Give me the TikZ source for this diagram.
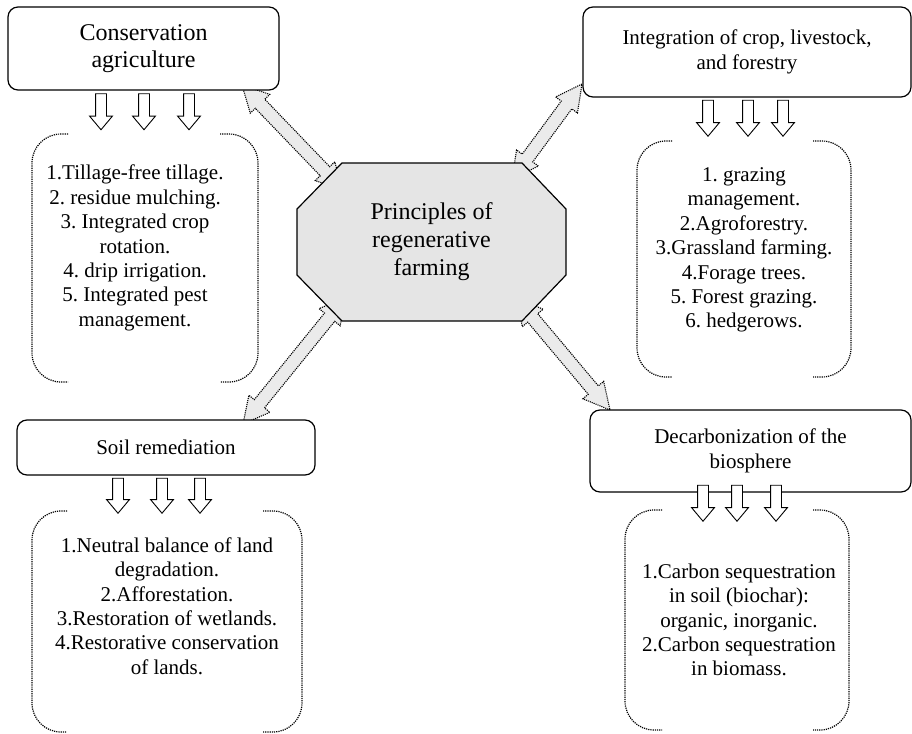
\documentclass[tikz,border=0pt]{standalone}
\usepackage{fontspec}
\setmainfont{Liberation Serif}
\usetikzlibrary{shapes.arrows,calc}
\frenchspacing
\newcommand{\twoway}[2]{%
  \path let \p1=(#1), \p2=(#2), \n1={atan2(\y2-\y1,\x2-\x1)},
    \n2={veclen(\x2-\x1,\y2-\y1)} in
    node[linkarrow,minimum height=\n2,rotate=\n1] (#1#2) at ($(#1)!0.5!(#2)$) {};}
\begin{document}
\begin{tikzpicture}[x=1pt,y=-1pt,
  topic/.style={draw,line width=1.2pt,rounded corners=10pt,fill=white,align=center,
    font=\fontsize{21}{25}\selectfont},
  list/.style={align=center,font=\fontsize{21}{24.4}\selectfont},
  bracket/.style={densely dotted,line width=1.2pt,rounded corners=29pt},
  downarrow/.style={single arrow,draw,line width=0.9pt,fill=white,rotate=-90,inner sep=5pt,
    single arrow head extend=6pt,single arrow tip angle=80,minimum height=36pt},
  linkarrow/.style={double arrow,draw,densely dotted,line width=1.1pt,fill=black!8,inner sep=6pt,
    double arrow head extend=7pt,double arrow tip angle=55}]
  \useasboundingbox (0,0) rectangle (912,733);
  % links from the four topics to the centre
  \coordinate (c1) at (242,85);  \coordinate (h1) at (343,190);
  \coordinate (c2) at (582,84);  \coordinate (h2) at (512,179);
  \coordinate (c3) at (243,424); \coordinate (h3) at (346,297);
  \coordinate (c4) at (610,410); \coordinate (h4) at (516,298);
  \twoway{c1}{h1}
  \twoway{c2}{h2}
  \twoway{c3}{h3}
  \twoway{c4}{h4}
  \draw[line width=1.2pt,fill=black!10] (342,163) -- (522,163) -- (566,209) -- (566,275) --
        (522,321) -- (342,321) -- (297,275) -- (297,209) -- cycle;
  \node[align=center,font=\fontsize{24}{28}\selectfont] (hub) at (431.5,242)
    {Principles of\\regenerative\\farming};
  % topics
  \node[topic,minimum width=271pt,minimum height=83pt,font=\fontsize{24}{27}\selectfont]
    (cons) at (143.5,48.5) {Conservation\\agriculture};
  \node[topic,minimum width=328pt,minimum height=90pt] (integ) at (747,52)
    {Integration of crop, livestock,\\and forestry};
  \node[topic,minimum width=298pt,minimum height=55pt] (soil) at (166,447.5) {Soil remediation};
  \node[topic,minimum width=321pt,minimum height=82pt] (decarb) at (750.5,451)
    {Decarbonization of the\\biosphere};
  \foreach \x in {101,144,189} \node[downarrow] (cons-\x) at (\x,108.5) {};
  \foreach \x in {708,748,783} \node[downarrow] (integ-\x) at (\x,115) {};
  \foreach \x in {118,162,200} \node[downarrow,minimum height=35pt] (soil-\x) at (\x,492.5) {};
  \foreach \x in {703,737,776} \node[downarrow] (decarb-\x) at (\x,500) {};
  % dotted brackets
  \draw[bracket] (68,134) -- (32,134) -- (32,382) -- (68,382);
  \draw[bracket] (220,134) -- (258,134) -- (258,382) -- (220,382);
  \draw[bracket] (672,141) -- (637,141) -- (637,377) -- (672,377);
  \draw[bracket] (813,141) -- (851,141) -- (851,377) -- (813,377);
  \draw[bracket] (67,511) -- (32,511) -- (32,732) -- (67,732);
  \draw[bracket] (263,511) -- (302,511) -- (302,732) -- (263,732);
  \draw[bracket] (662,510) -- (625,510) -- (625,730) -- (662,730);
  \draw[bracket] (813,510) -- (849,510) -- (849,730) -- (813,730);
  % lists
  \node[list] (consl) at (135,248) {1.Tillage-free tillage.\\2. residue mulching.\\
    3. Integrated crop\\rotation.\\4. drip irrigation.\\5. Integrated pest\\management.};
  \node[list] (integl) at (744,250) {1. grazing\\management.\\2.Agroforestry.\\
    3.Grassland farming.\\4.Forage trees.\\5. Forest grazing.\\6. hedgerows.};
  \node[list] (soill) at (167,606) {1.Neutral balance of land\\degradation.\\2.Afforestation.\\
    3.Restoration of wetlands.\\4.Restorative conservation\\of lands.};
  \node[list] (decarbl) at (739,620) {1.Carbon sequestration\\in soil (biochar):\\
    organic, inorganic.\\2.Carbon sequestration\\in biomass.};
\end{tikzpicture}
\end{document}
